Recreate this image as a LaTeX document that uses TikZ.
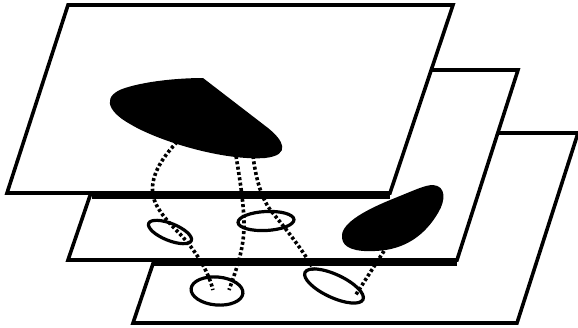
\documentclass[tikz,border=0pt]{standalone}
\usetikzlibrary{shapes.geometric}
\begin{document}
\begin{tikzpicture}[x=1pt,y=-1pt,
  plane/.style={draw=black,fill=white,line width=3.6pt},
  blob/.style={fill=black},
  ring/.style={draw=black,ellipse,line width=3.2pt,inner sep=0pt},
  dotline/.style={line width=3.6pt,dash pattern=on 3pt off 2.4pt},
  bar/.style={line width=8pt,line cap=butt}]
\useasboundingbox (0,0) rectangle (578,327);
% planes (bottom to top)
\draw[plane] (197,133) -- (578,133) -- (517,323) -- (133,323) -- cycle;
\draw[plane] (133,70) -- (518,70) -- (457,260) -- (68,260) -- cycle;
\draw[plane] (68,5) -- (453,5) -- (390,193) -- (7,193) -- cycle;
% blobs
\fill[blob] (203,78) -- (268,128) .. controls (283,140) and (292,155) .. (265,158)
  .. controls (225,161) and (160,142) .. (130,124)
  .. controls (105,110) and (103,95) .. (125,88)
  .. controls (150,80) and (185,78) .. (203,78) -- cycle;
\fill[blob] (342,238) .. controls (340,225) and (360,212) .. (395,198)
  .. controls (415,190) and (425,185) .. (433,185)
  .. controls (446,186) and (446,200) .. (438,213)
  .. controls (425,235) and (405,250) .. (375,251)
  .. controls (355,252) and (343,248) .. (342,238) -- cycle;
% rings
\node[ring,minimum width=46pt,minimum height=17pt,rotate=-22] (A) at (170,232) {};
\node[ring,minimum width=56pt,minimum height=19pt,rotate=3] (B) at (266,221) {};
\node[ring,minimum width=52pt,minimum height=28pt,rotate=-5] (C) at (217,291) {};
\node[ring,minimum width=64pt,minimum height=23pt,rotate=-25] (D) at (334,286) {};
% connector end points
\coordinate (t1) at (177,142);
\coordinate (t2) at (236,156);
\coordinate (t3) at (253,156);
\coordinate (m1) at (384,251);
\coordinate (c1) at (213,290);
\coordinate (c2) at (229,290);
\coordinate (d1) at (314,270);
\coordinate (d2) at (355,296);
% dotted connectors
\draw[dotline] (t1) .. controls (160,160) and (150,178) .. (153,195)
  .. controls (155,208) and (168,222) .. (180,234)
  .. controls (195,250) and (208,270) .. (c1);
\draw[dotline] (t2) .. controls (240,180) and (244,205) .. (244,225)
  .. controls (244,250) and (236,270) .. (c2);
\draw[dotline] (t3) .. controls (256,180) and (262,200) .. (272,212)
  .. controls (285,228) and (303,250) .. (d1);
\draw[dotline] (m1) -- (d2);
% heavy overlap edges
\draw[bar] (92,194.5) -- (390,194.5);
\draw[bar] (153,261.5) -- (457,261.5);
\end{tikzpicture}
\end{document}
